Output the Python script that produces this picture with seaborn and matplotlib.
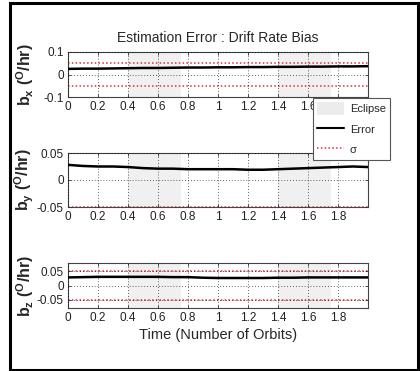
import matplotlib
matplotlib.use("Agg")
import matplotlib.pyplot as plt
import seaborn as sns
import pandas as pd
from matplotlib.patches import Rectangle, Patch
from matplotlib.lines import Line2D

sns.set_style("white")
plt.rcParams['font.family'] = ['Liberation Sans Narrow', 'Liberation Sans', 'DejaVu Sans']
plt.rcParams['mathtext.fontset'] = 'custom'
plt.rcParams['mathtext.rm'] = 'Liberation Sans:bold'
plt.rcParams['mathtext.bf'] = 'Liberation Sans:bold'
plt.rcParams['mathtext.it'] = 'Liberation Sans:italic'
plt.rcParams['mathtext.default'] = 'rm'

# Data
time = [0.0, 0.1, 0.2, 0.3, 0.4, 0.5, 0.6, 0.7, 0.8, 0.9, 1.0,
        1.1, 1.2, 1.3, 1.4, 1.5, 1.6, 1.7, 1.8, 1.9, 2.0]
err_bx = [0.025, 0.026, 0.026, 0.027, 0.028, 0.029, 0.029, 0.030, 0.031, 0.031, 0.032,
          0.032, 0.033, 0.033, 0.034, 0.034, 0.035, 0.035, 0.036, 0.036, 0.037]
err_by = [0.028, 0.026, 0.025, 0.025, 0.024, 0.022, 0.021, 0.021, 0.020, 0.020, 0.020,
          0.020, 0.019, 0.019, 0.020, 0.021, 0.022, 0.023, 0.024, 0.025, 0.024]
err_bz = [0.028, 0.029, 0.030, 0.030, 0.030, 0.030, 0.030, 0.029, 0.029, 0.027, 0.026,
          0.026, 0.026, 0.026, 0.027, 0.027, 0.028, 0.028, 0.028, 0.028, 0.028]
sigma = [0.05, 0.05, 0.05]
eclipse_start = [0.4, 1.4]
eclipse_end = [0.75, 1.75]
ylims = [0.1, 0.05, 0.078]
yticks = [[-0.1, 0, 0.1], [-0.05, 0, 0.05], [-0.05, 0, 0.05]]
ytick_labels = [['-0.1', '0', '0.1'], ['-0.05', '0', '0.05'], ['-0.05', '0', '0.05']]
xticks = [0, 0.2, 0.4, 0.6, 0.8, 1.0, 1.2, 1.4, 1.6, 1.8]
xtick_labels = ['0', '0.2', '0.4', '0.6', '0.8', '1', '1.2', '1.4', '1.6', '1.8']
ylabels = [r'b$_{x}$ ($^{O}$/hr)', r'b$_{y}$ ($^{O}$/hr)', r'b$_{z}$ ($^{O}$/hr)']
title = 'Estimation Error : Drift Rate Bias'
xlabel = 'Time (Number of Orbits)'
legend_labels = ['Eclipse', 'Error', 'σ']

W, H = 420, 371
fig = plt.figure(figsize=(W / 100, H / 100), dpi=100)

# axes boxes in pixel coords (left, top, right, bottom)
boxes = [(68, 52, 368, 97), (68, 153, 368, 207), (68, 263, 368, 308)]
series = [err_bx, err_by, err_bz]
red = '#e0303a'
axes = []
for i, (l, t, r, b) in enumerate(boxes):
    ax = fig.add_axes([l / W, 1 - b / H, (r - l) / W, (b - t) / H])
    axes.append(ax)
    for s, e in zip(eclipse_start, eclipse_end):
        ax.axvspan(s, e, color='#f0f0f0', lw=0, zorder=0)
    ax.axhline(sigma[i], color=red, ls=(0, (1, 1.5)), lw=1.1, zorder=2)
    ax.axhline(-sigma[i], color=red, ls=(0, (1, 1.5)), lw=1.1, zorder=2)
    df = pd.DataFrame({'t': time, 'v': series[i]})
    sns.lineplot(data=df, x='t', y='v', ax=ax, color='black', lw=1.8, zorder=3)
    ax.set_xlim(0, 2)
    ax.set_ylim(-ylims[i], ylims[i])
    ax.set_xticks(xticks)
    ax.set_xticklabels(xtick_labels)
    ax.set_yticks(yticks[i])
    ax.set_yticklabels(ytick_labels[i])
    ax.grid(True, color='black', ls=(0, (1, 2.5)), lw=0.6, alpha=0.8)
    ax.set_axisbelow(False)
    ax.tick_params(direction='in', length=2.5, width=0.6, labelsize=8.5, pad=3,
                   colors='#333333', top=True, right=True, bottom=True, left=True)
    ax.tick_params(labelcolor='#222222')
    for sp in ax.spines.values():
        sp.set_color('#444444')
        sp.set_linewidth(0.8)
    ax.set_xlabel('')
    ax.set_ylabel(ylabels[i], fontsize=11.5, fontweight='bold',
                  family=['Liberation Sans', 'DejaVu Sans'])
    ax.yaxis.set_label_coords(-0.105, 0.5)

axes[0].set_title(title, fontsize=10, pad=7, family=['Liberation Sans', 'DejaVu Sans'])
axes[2].set_xlabel(xlabel, fontsize=10.5, family=['Liberation Sans', 'DejaVu Sans'], labelpad=3)

handles = [Patch(facecolor='#ececec', edgecolor='none'),
           Line2D([], [], color='black', lw=1.5),
           Line2D([], [], color=red, ls=(0, (1, 1.5)), lw=1.1)]
leg = fig.legend(handles, legend_labels,
                 loc='upper left', bbox_to_anchor=(313 / W, 1 - 98 / H),
                 prop={'family': ['Liberation Sans', 'DejaVu Sans'], 'size': 8},
                 frameon=True, fancybox=False, framealpha=1,
                 edgecolor='#555555', handlelength=2.4, handleheight=1.3,
                 handletextpad=0.5, borderpad=0.4, labelspacing=0.75, borderaxespad=0)
leg.get_frame().set_linewidth(0.8)

# outer frame
fig.add_artist(Rectangle((9.5 / W, 1.5 / H), 408 / W, 367 / H, transform=fig.transFigure,
                         fill=False, edgecolor='black', lw=2.2))

fig.savefig('out.png', dpi=100)
